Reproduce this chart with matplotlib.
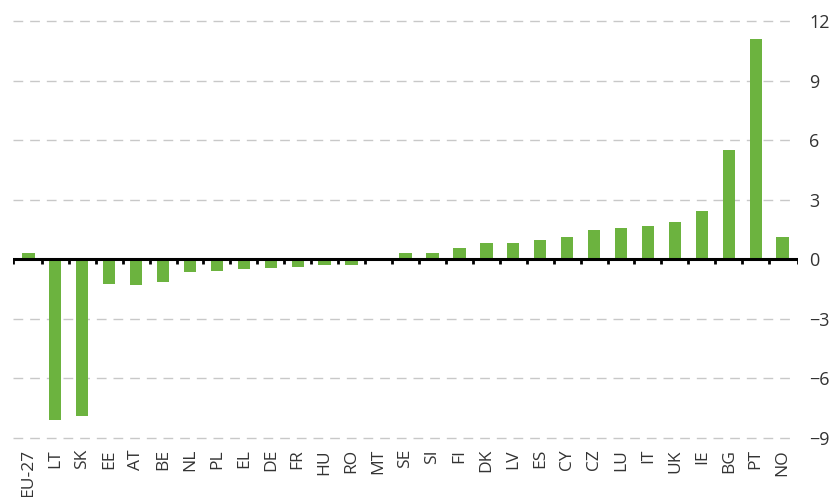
import numpy as np
import matplotlib.pyplot as plt

plt.rcParams["font.family"] = ["Open Sans", "DejaVu Sans"]

countries = ["EU-27", "LT", "SK", "EE", "AT", "BE", "NL", "PL", "EL", "DE",
             "FR", "HU", "RO", "MT", "SE", "SI", "FI", "DK", "LV", "ES",
             "CY", "CZ", "LU", "IT", "UK", "IE", "BG", "PT", "NO"]
values = [0.3, -8.1, -7.9, -1.25, -1.3, -1.15, -0.65, -0.6, -0.5, -0.45,
          -0.4, -0.3, -0.3, 0.0, 0.3, 0.3, 0.55, 0.8, 0.8, 0.95,
          1.1, 1.45, 1.6, 1.7, 1.9, 2.45, 5.5, 11.1, 1.1]
yticks = [-9, -6, -3, 0, 3, 6, 9, 12]

green = "#6cb33f"
text_col = "#333333"

fig = plt.figure(figsize=(8.32, 4.97), dpi=100)
ax = fig.add_axes([13 / 832, 1 - 438 / 497, (798 - 13) / 832, (438 - 21) / 497])

x = np.arange(len(countries))
ax.bar(x, values, width=0.46, color=green, zorder=2)

# dashed grid (not at zero)
for y in yticks:
    if y != 0:
        ax.axhline(y, color="#c8c8c8", lw=1.0, ls=(0, (7, 5)), zorder=1,
                   xmax=0.996, clip_on=False)
ax.axhline(0, color="black", lw=2.2, zorder=3)

n = len(countries)
ax.set_xlim(-0.57, n - 1 + 0.57)
ax.set_ylim(-9, 12)

# small tick marks under the zero line between the bars
bounds = np.concatenate(([-0.57], np.arange(n - 1) + 0.5, [n - 1 + 0.57]))
ax.vlines(bounds, -0.25, 0, color="black", lw=2, zorder=3)

ax.set_xticks(x)
ax.set_xticklabels(countries, rotation=90, fontsize=12.5, color=text_col)
ax.tick_params(axis="x", length=0, pad=8)

ax.yaxis.tick_right()
ax.set_yticks(yticks)
ax.set_yticklabels([str(v).replace("-", "\u2212") for v in yticks],
                   fontsize=13, color=text_col)
ax.tick_params(axis="y", length=0, pad=8)

for s in ax.spines.values():
    s.set_visible(False)

fig.savefig("out.png", dpi=100)
